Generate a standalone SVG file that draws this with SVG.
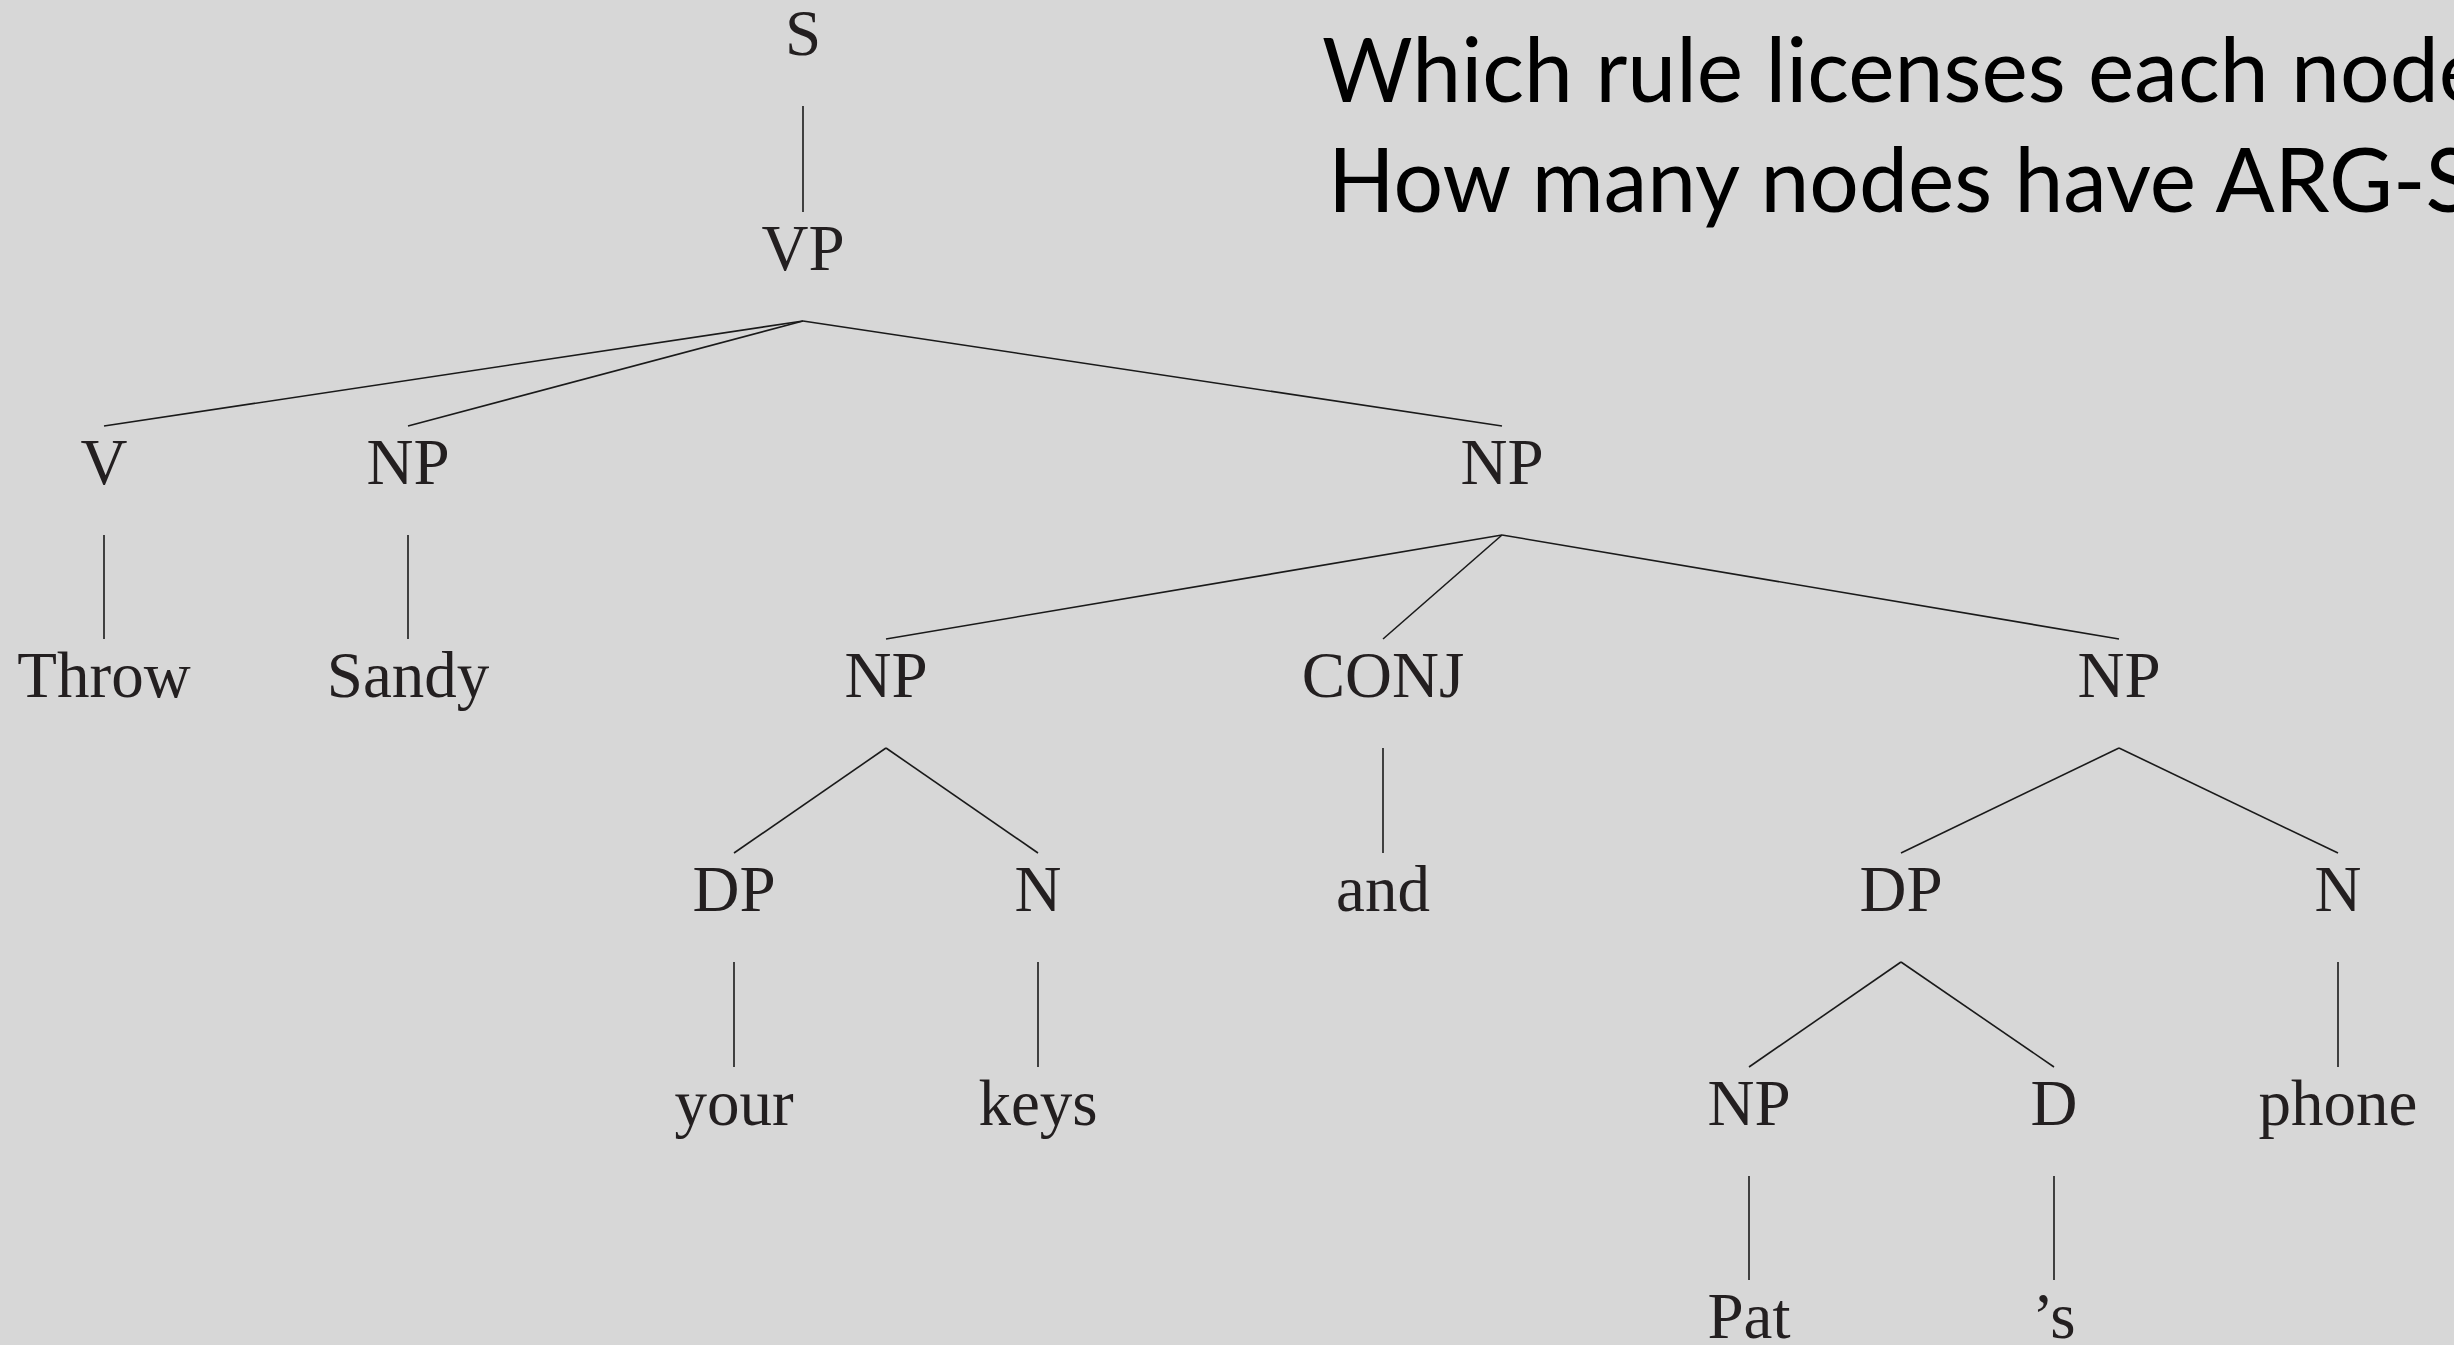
<svg xmlns="http://www.w3.org/2000/svg" width="2454" height="1345" viewBox="0 0 2454 1345">
  <style>
    .lbl { font-family: "Liberation Serif", "DejaVu Serif", serif; font-size: 65px; fill: #231f20; text-anchor: middle; }
    .q { font-family: Lato, "Open Sans", "DejaVu Sans", sans-serif; font-size: 90px; fill: #000; }
    .edges line { stroke: #1a1a1a; stroke-width: 1.6; fill: none; }
  </style>
  <rect x="0" y="0" width="2454" height="1345" fill="#d7d7d7"/>

  <!-- questions -->
  <g id="questions">
    <text class="q" x="1322" y="102" textLength="1163" lengthAdjust="spacingAndGlyphs">Which rule licenses each node</text>
    <text class="q" x="1328" y="212" textLength="1145" lengthAdjust="spacingAndGlyphs">How many nodes have ARG-S</text>
  </g>

  <!-- tree branches -->
  <g class="edges" id="edges">
    <line x1="803" y1="106" x2="803" y2="212"/>
    <line x1="803" y1="321" x2="104" y2="426"/>
    <line x1="803" y1="321" x2="408" y2="426"/>
    <line x1="803" y1="321" x2="1502" y2="426"/>
    <line x1="104" y1="535" x2="104" y2="639"/>
    <line x1="408" y1="535" x2="408" y2="639"/>
    <line x1="1502" y1="535" x2="886" y2="639"/>
    <line x1="1502" y1="535" x2="1383" y2="639"/>
    <line x1="1502" y1="535" x2="2119" y2="639"/>
    <line x1="886" y1="748" x2="734" y2="853"/>
    <line x1="886" y1="748" x2="1038" y2="853"/>
    <line x1="1383" y1="748" x2="1383" y2="853"/>
    <line x1="2119" y1="748" x2="1901" y2="853"/>
    <line x1="2119" y1="748" x2="2338" y2="853"/>
    <line x1="734" y1="962" x2="734" y2="1067"/>
    <line x1="1038" y1="962" x2="1038" y2="1067"/>
    <line x1="1901" y1="962" x2="1749" y2="1067"/>
    <line x1="1901" y1="962" x2="2054" y2="1067"/>
    <line x1="2338" y1="962" x2="2338" y2="1067"/>
    <line x1="1749" y1="1176" x2="1749" y2="1280"/>
    <line x1="2054" y1="1176" x2="2054" y2="1280"/>
  </g>

  <!-- tree nodes -->
  <g id="n-S"><text class="lbl" x="803" y="55">S</text></g>
  <g id="n-VP"><text class="lbl" x="803" y="270">VP</text></g>
  <g id="n-V"><text class="lbl" x="104" y="484">V</text></g>
  <g id="n-NP1"><text class="lbl" x="408" y="484">NP</text></g>
  <g id="n-NP2"><text class="lbl" x="1502" y="484">NP</text></g>
  <g id="n-Throw"><text class="lbl" x="104" y="697">Throw</text></g>
  <g id="n-Sandy"><text class="lbl" x="408" y="697">Sandy</text></g>
  <g id="n-NP3"><text class="lbl" x="886" y="697">NP</text></g>
  <g id="n-CONJ"><text class="lbl" x="1383" y="697">CONJ</text></g>
  <g id="n-NP4"><text class="lbl" x="2119" y="697">NP</text></g>
  <g id="n-DP1"><text class="lbl" x="734" y="911">DP</text></g>
  <g id="n-N1"><text class="lbl" x="1038" y="911">N</text></g>
  <g id="n-and"><text class="lbl" x="1383" y="911">and</text></g>
  <g id="n-DP2"><text class="lbl" x="1901" y="911">DP</text></g>
  <g id="n-N2"><text class="lbl" x="2338" y="911">N</text></g>
  <g id="n-your"><text class="lbl" x="734" y="1125">your</text></g>
  <g id="n-keys"><text class="lbl" x="1038" y="1125">keys</text></g>
  <g id="n-NP5"><text class="lbl" x="1749" y="1125">NP</text></g>
  <g id="n-D"><text class="lbl" x="2054" y="1125">D</text></g>
  <g id="n-phone"><text class="lbl" x="2338" y="1125">phone</text></g>
  <g id="n-Pat"><text class="lbl" x="1749" y="1338">Pat</text></g>
  <g id="n-s"><text class="lbl" x="2054" y="1338">’s</text></g>
</svg>
